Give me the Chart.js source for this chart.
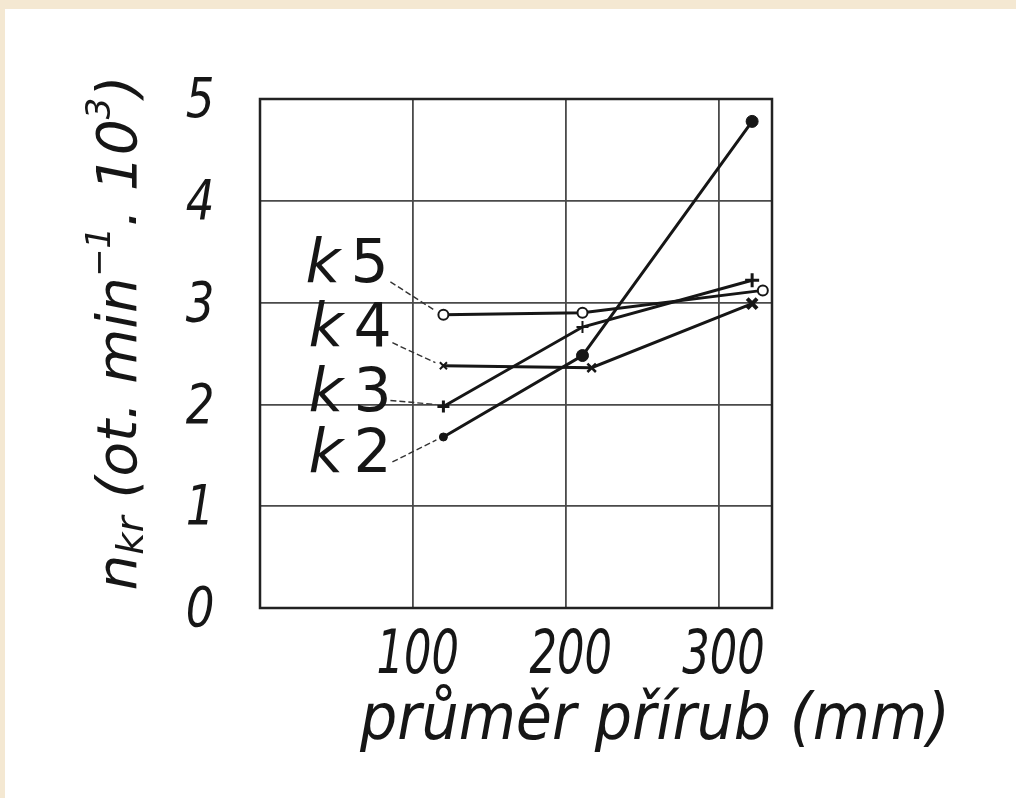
<!DOCTYPE html>
<html>
<head>
<meta charset="utf-8">
<script src="https://cdn.jsdelivr.net/npm/chart.js@4.4.1/dist/chart.umd.min.js"></script>
<style>
  html, body { margin: 0; padding: 0; background: #f4e8d2; }
  canvas { display: block; }
</style>
</head>
<body>
<canvas id="graf" width="1016" height="798"></canvas>
<script>
// průměr přírub (mm) vs. kritické otáčky n_kr (ot. min^-1 . 10^3)
const xTicks = [100, 200, 300];
const yTicks = [0, 1, 2, 3, 4, 5];

const k5x = [120, 211, 329];
const k5y = [2.88, 2.90, 3.12];
const k4x = [120, 217, 322];
const k4y = [2.38, 2.36, 2.99];
const k3x = [120, 211, 322];
const k3y = [1.98, 2.76, 3.22];
const k2x = [120, 211, 322];
const k2y = [1.68, 2.48, 4.78];

const ink = '#161616';
const font = '"DejaVu Sans", sans-serif';

function pts(xs, ys) {
    return xs.map((x, i) => ({ x: x, y: ys[i] }));
}

// popisky k5..k2 s odkazovou čarou k prvnímu bodu
const tags = {
    k5: { dx: -138, dy: -48, lx: -53, ly: -33, ex: -8, ey: -4 },
    k4: { dx: -135, dy: -35, lx: -51, ly: -23, ex: -8, ey: -3 },
    k3: { dx: -135, dy: -11, lx: -53, ly: -6, ex: -8, ey: -2 },
    k2: { dx: -135, dy: 19, lx: -51, ly: 25, ex: -7, ey: 3 }
};

const paper = {
    id: 'paper',
    beforeDraw(chart) {
        const ctx = chart.ctx;
        ctx.save();
        ctx.fillStyle = '#f4e8d2';
        ctx.fillRect(0, 0, chart.width, chart.height);
        ctx.fillStyle = '#ffffff';
        ctx.fillRect(5, 9, chart.width - 5, chart.height - 9);
        ctx.restore();
    }
};

const frame = {
    id: 'frame',
    beforeDatasetsDraw(chart) {
        const a = chart.chartArea;
        const ctx = chart.ctx;
        ctx.save();
        ctx.strokeStyle = '#222';
        ctx.lineWidth = 2.5;
        ctx.strokeRect(a.left, a.top, a.right - a.left, a.bottom - a.top);
        ctx.restore();
    }
};

function squeezed(ctx, text, x, y, sx, align) {
    ctx.save();
    ctx.translate(x, y);
    ctx.scale(sx, 1);
    ctx.textAlign = align;
    ctx.fillText(text, 0, 0);
    ctx.restore();
}

const texts = {
    id: 'texts',
    afterDraw(chart) {
        const ctx = chart.ctx;
        const xs = chart.scales.x;
        const ys = chart.scales.y;
        ctx.save();
        ctx.fillStyle = ink;
        ctx.textBaseline = 'middle';

        // hodnoty na osách
        ctx.font = 'oblique 55px ' + font;
        yTicks.forEach(v => {
            squeezed(ctx, String(v), 200, ys.getPixelForValue(v) + 4, 0.82, 'center');
        });
        ctx.font = 'oblique 60px ' + font;
        xTicks.forEach(v => {
            squeezed(ctx, String(v), xs.getPixelForValue(v) + 5, 657, 0.72, 'center');
        });

        // název osy x
        ctx.font = 'oblique 64px ' + font;
        const xt = 'průměr přírub (mm)';
        const w = ctx.measureText(xt).width;
        squeezed(ctx, xt, 655, 722, 590 / w, 'center');

        // název osy y, otočený, s indexy
        const parts = [
            { t: 'n', s: 1, d: 0 },
            { t: 'kr', s: 0.68, d: 0.22 },
            { t: ' (ot. min', s: 1, d: 0 },
            { t: '−1', s: 0.6, d: -0.35 },
            { t: '. 10', s: 1, d: 0 },
            { t: '3', s: 0.6, d: -0.35 },
            { t: ')', s: 1, d: 0 }
        ];
        const fs = 56;
        let total = 0;
        parts.forEach(p => {
            ctx.font = 'oblique ' + (fs * p.s) + 'px ' + font;
            p.w = ctx.measureText(p.t).width;
            total += p.w;
        });
        const k = 515 / total;
        ctx.translate(121, 333);
        ctx.rotate(-Math.PI / 2);
        ctx.scale(k, 1);
        let cx = -total / 2;
        ctx.textAlign = 'left';
        parts.forEach(p => {
            ctx.font = 'oblique ' + (fs * p.s) + 'px ' + font;
            ctx.fillText(p.t, cx, p.d * fs);
            cx += p.w;
        });
        ctx.restore();

        // popisky řad
        ctx.save();
        ctx.fillStyle = ink;
        ctx.strokeStyle = '#333';
        ctx.textBaseline = 'middle';
        chart.data.datasets.forEach((ds, i) => {
            const t = tags[ds.label];
            const p = chart.getDatasetMeta(i).data[0];
            ctx.font = 'oblique 60px ' + font;
            ctx.textAlign = 'left';
            ctx.fillText('k', p.x + t.dx, p.y + t.dy);
            ctx.font = '60px ' + font;
            ctx.fillText(ds.label.slice(1), p.x + t.dx + 45, p.y + t.dy);
            ctx.lineWidth = 1.4;
            ctx.setLineDash([6, 3]);
            ctx.beginPath();
            ctx.moveTo(p.x + t.lx, p.y + t.ly);
            ctx.lineTo(p.x + t.ex, p.y + t.ey);
            ctx.stroke();
        });
        ctx.restore();
    }
};

function series(label, xs, ys, style) {
    return Object.assign({
        label: label,
        data: pts(xs, ys),
        showLine: true,
        borderColor: ink,
        borderWidth: 3,
        pointBorderColor: ink,
        tension: 0
    }, style);
}

new Chart('graf', {
    type: 'scatter',
    data: {
        datasets: [
            series('k5', k5x, k5y, { pointStyle: 'circle', pointRadius: 5, pointBorderWidth: 2, pointBackgroundColor: '#fff' }),
            series('k4', k4x, k4y, { pointStyle: 'crossRot', pointRadius: [5, 6, 7], pointBorderWidth: [2, 2.5, 4] }),
            series('k3', k3x, k3y, { pointStyle: 'cross', pointRadius: [6, 6, 7], pointBorderWidth: [3, 2, 3] }),
            series('k2', k2x, k2y, { pointStyle: 'circle', pointRadius: [4, 6, 6], pointBorderWidth: 1, pointBackgroundColor: ink })
        ]
    },
    options: {
        responsive: false,
        animation: false,
        layout: { padding: { top: 99, right: 244, left: 0, bottom: 0 } },
        plugins: {
            legend: { display: false },
            tooltip: { enabled: false }
        },
        scales: {
            x: {
                type: 'linear',
                min: 0,
                max: 335,
                afterBuildTicks: s => { s.ticks = xTicks.map(v => ({ value: v })); },
                afterFit: s => { s.height = 190; },
                grid: { color: '#4a4a4a', lineWidth: 1.8, drawTicks: false },
                border: { display: false },
                ticks: { display: false }
            },
            y: {
                min: 0,
                max: 5,
                afterBuildTicks: s => { s.ticks = yTicks.map(v => ({ value: v })); },
                afterFit: s => { s.width = 260; },
                grid: { color: '#4a4a4a', lineWidth: 1.8, drawTicks: false },
                border: { display: false },
                ticks: { display: false }
            }
        }
    },
    plugins: [paper, frame, texts]
});
</script>
</body>
</html>
